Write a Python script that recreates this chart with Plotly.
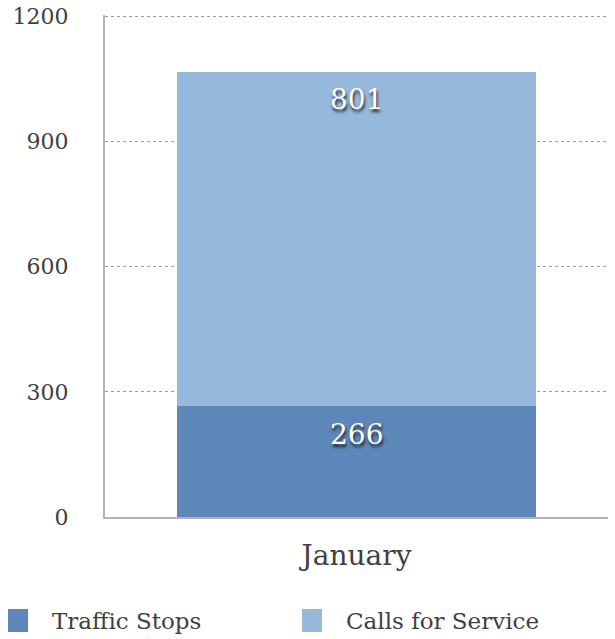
import plotly.graph_objects as go

categories = ["January"]
series_names = ["Traffic Stops", "Calls for Service"]
traffic_stops = [266]
calls_for_service = [801]
y_ticks = [0, 300, 600, 900, 1200]

colors = ["#5E87B9", "#95B8DB"]
FONT = "DejaVu Serif"

W, H = 615, 639
L, R, T, B = 105, 7, 15, 122
PW, PH = W - L - R, H - T - B

fig = go.Figure()
cum = [0] * len(categories)
for name, vals, col in zip(series_names, [traffic_stops, calls_for_service], colors):
    fig.add_trace(go.Bar(
        x=categories, y=vals, name=name, marker=dict(color=col, line=dict(width=0)),
        width=0.714, showlegend=False,
    ))
    for i, (c, v) in enumerate(zip(categories, vals)):
        cum[i] += v
        fig.add_annotation(x=c, y=cum[i], text=str(v), showarrow=False,
                           yanchor="middle", yshift=-28,
                           font=dict(family=FONT, size=28, color="white",
                                     shadow="1px 3px 3px #222"))

fig.update_layout(
    barmode="stack",
    width=W, height=H,
    margin=dict(l=L, r=R, t=T, b=B, autoexpand=False),
    plot_bgcolor="white", paper_bgcolor="white",
    font=dict(family=FONT, color="#404040"),
)
fig.update_yaxes(
    range=[0, 1203], tickvals=y_ticks, showgrid=True, gridcolor="#9a9a9a", griddash="dot",
    gridwidth=1, showline=True, linecolor="#b4b4b4", linewidth=2, zeroline=False,
    ticks="outside", ticklen=30, tickcolor="rgba(0,0,0,0)", automargin=False,
    ticklabeloverflow="allow",
    tickfont=dict(size=22, family=FONT, color="#404040"),
)
fig.update_xaxes(
    range=[-0.5, 0.5], showline=True, linecolor="#b4b4b4", linewidth=2,
    ticks="outside", ticklen=12, tickcolor="rgba(0,0,0,0)", automargin=False,
    tickfont=dict(size=28, family=FONT, color="#404040"),
)

# legend drawn at the bottom (pixel positions in the window)
legend_x = [8, 302]
def px(xw):
    return (xw - L) / PW
def py(yw):
    return (H - yw - B) / PH
for name, col, lx in zip(series_names, colors, legend_x):
    fig.add_shape(type="rect", xref="paper", yref="paper",
                  x0=px(lx), x1=px(lx + 20), y0=py(632), y1=py(609),
                  fillcolor=col, line=dict(width=0))
    fig.add_annotation(xref="paper", yref="paper", x=px(lx + 42),
                       y=py(621), text=name, showarrow=False,
                       xanchor="left", yanchor="middle",
                       font=dict(size=23, family=FONT, color="#404040"))

fig.write_html("out.html", config={"displayModeBar": False},
               post_script="document.body.style.margin='0';")
